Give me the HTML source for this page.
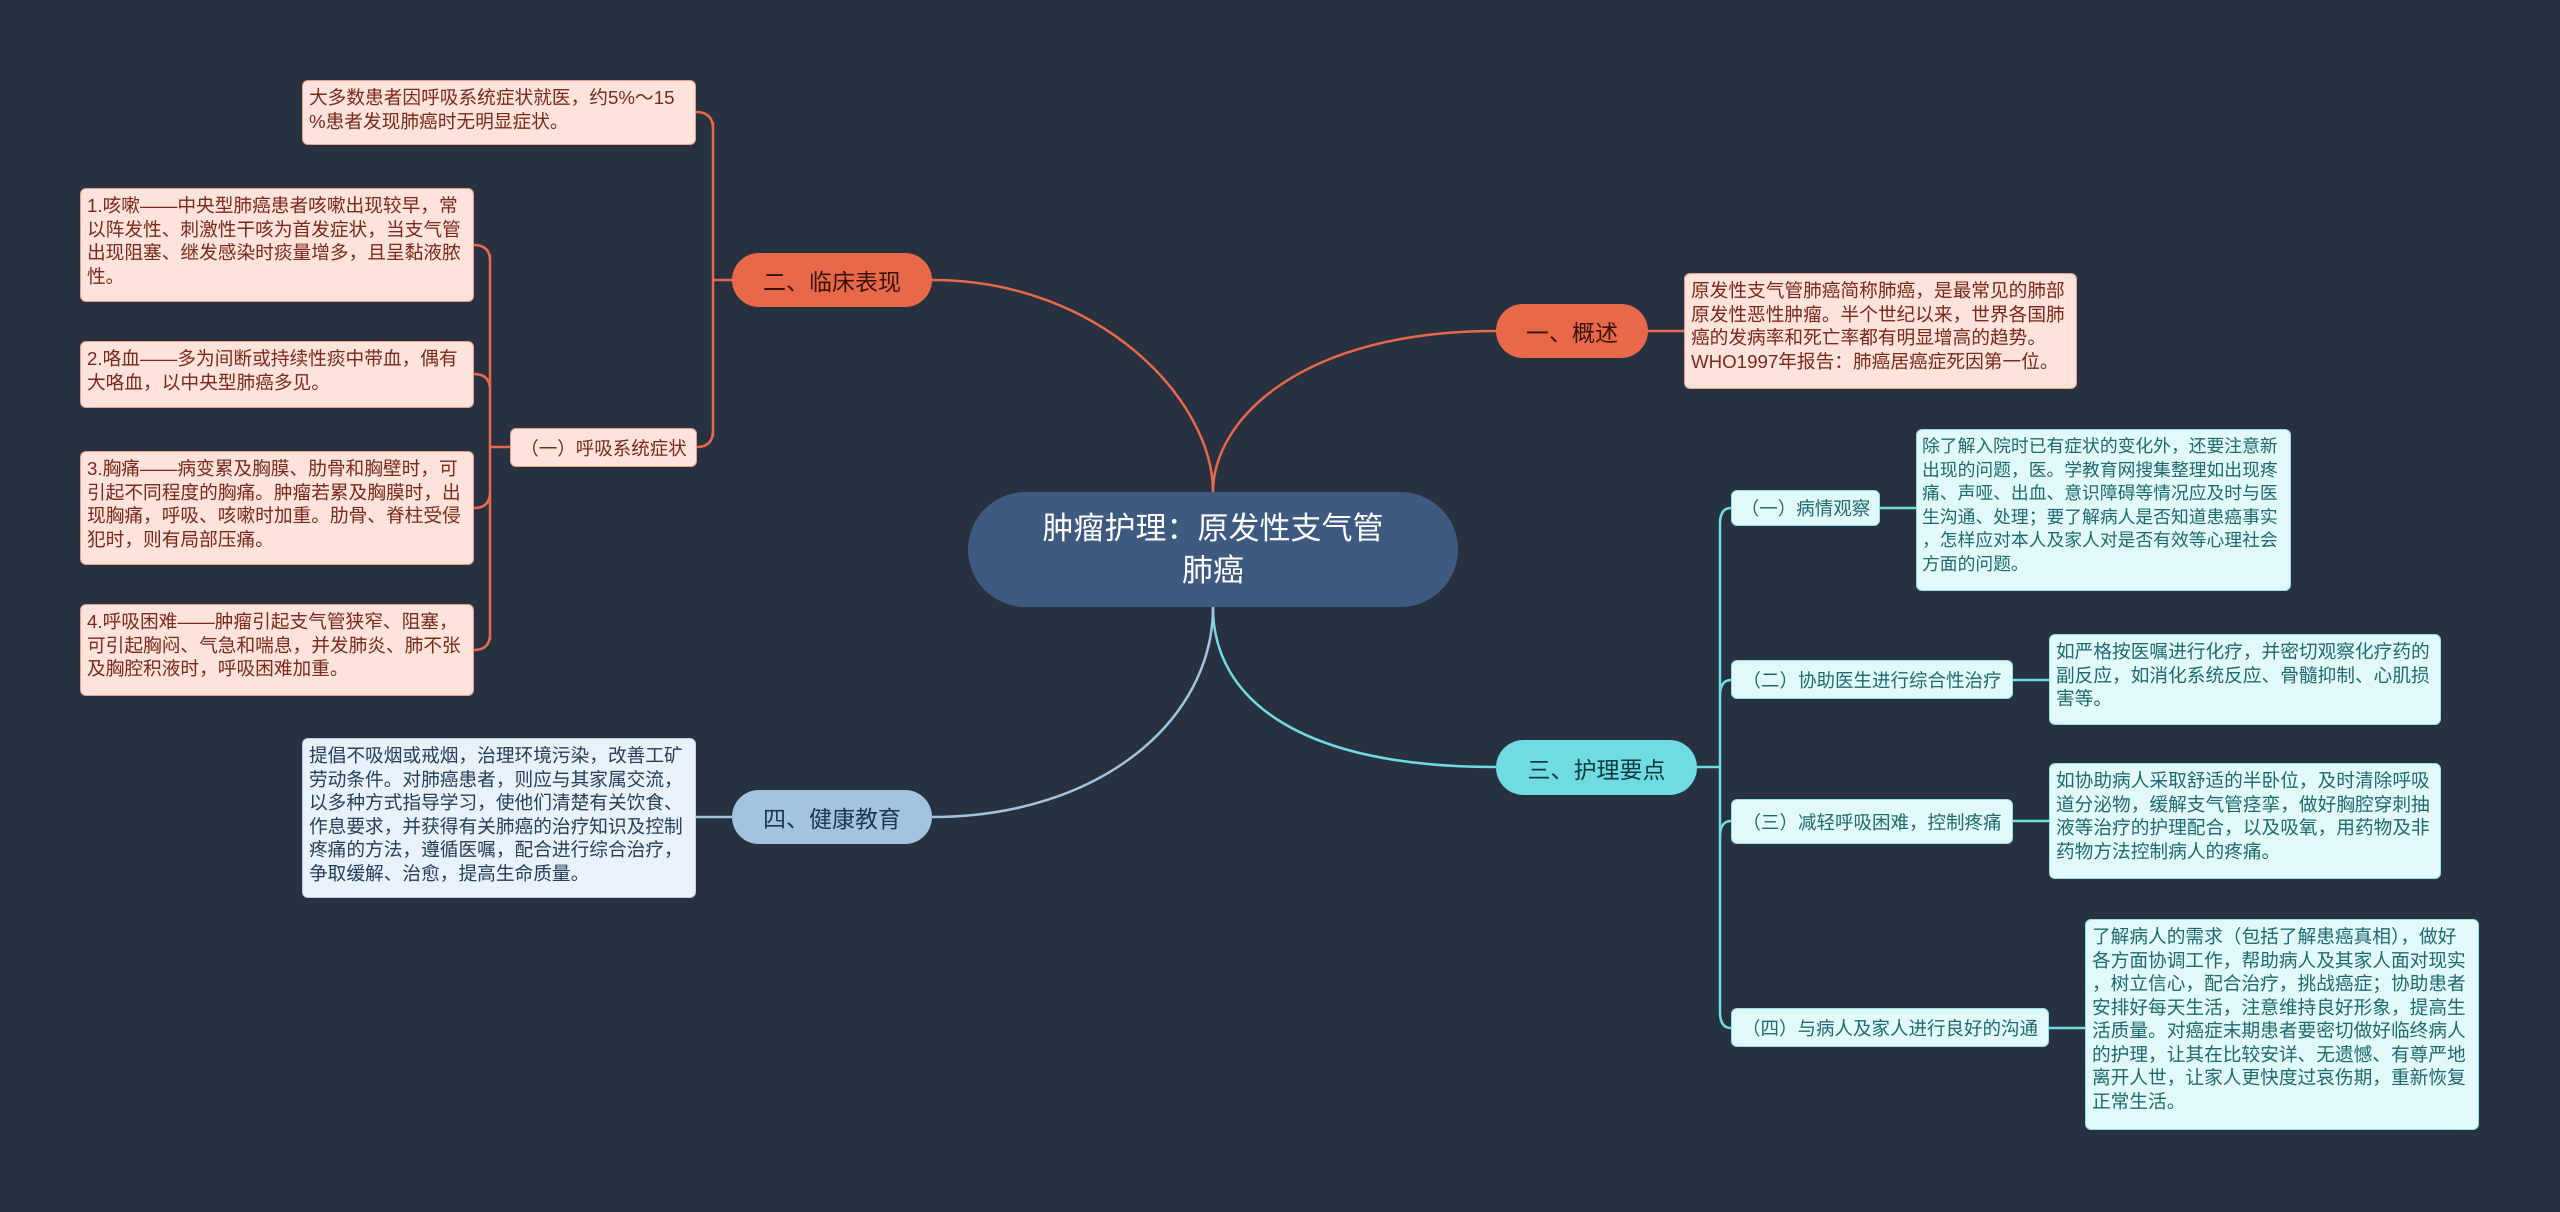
<!DOCTYPE html>
<html><head><meta charset="utf-8"><style>
body{margin:0;width:2560px;height:1212px;background:#283140;overflow:hidden;position:relative;font-family:"Liberation Sans","Noto Sans CJK SC",sans-serif}
.n{position:absolute;box-sizing:border-box}
.br{border-radius:28px;display:flex;align-items:center;justify-content:center;font-size:23px}
.t{border-radius:6px;font-size:18.7px;line-height:23.5px;padding:5px 6px;overflow:hidden;word-break:break-all;line-break:anywhere}
.o{background:#fde3db;color:#7a2a1a;border:1px solid #e8a08c}
.c{background:#e2f9f9;color:#1f6a70;border:1px solid #8fe0e4}
.b{background:#e9f2fa;color:#24405a;border:1px solid #b7cfe4}
.s{border-radius:6px;font-size:18.5px;display:flex;align-items:center;justify-content:center}
svg{position:absolute;left:0;top:0}
</style></head><body>
<svg width="2560" height="1212" fill="none" stroke-width="2.5">
<g stroke="#e8694a">
<path d="M1213,492 C1213,420 1300,331 1496,331"/>
<path d="M1213,492 C1213,400 1100,280 932,280"/>
<path d="M1648,331 L1684,331"/>
<path d="M732,280 L713,280 M713,122 L713,437 M696,112 Q713,112 713,129 M697,447 Q713,447 713,430"/>
<path d="M510,447 L490,447 M490,255 L490,640 M474,245 Q490,245 490,261 M474,374 Q490,374 490,390 M474,508 Q490,508 490,492 M474,650 Q490,650 490,634"/>
</g>
<g stroke="#6fdbe2">
<path d="M1213,607 C1213,700 1300,767 1496,767"/>
<path d="M1697,767 L1720,767 M1720,524 L1720,1012 M1731,508 Q1720,508 1720,524 M1731,680 Q1720,680 1720,696 M1731,821 Q1720,821 1720,837 M1731,1028 Q1720,1028 1720,1012"/>
<path d="M1880,508 L1916,508"/>
<path d="M2013,680 L2049,680"/>
<path d="M2013,821 L2049,821"/>
<path d="M2049,1028 L2085,1028"/>
</g>
<g stroke="#a3c3e0">
<path d="M1213,607 C1213,720 1100,817 932,817"/>
<path d="M732,817 L696,817"/>
</g>
</svg>

<div class="n" style="left:968px;top:492px;width:490px;height:115px;background:#3e5a80;border-radius:58px;color:#fff;font-size:31px;line-height:42px;text-align:center;display:flex;align-items:center;justify-content:center">肿瘤护理：原发性支气管<br>肺癌</div>

<div class="n br" style="left:1496px;top:304px;width:152px;height:54px;background:#e8694a;color:#3a1208">一、概述</div>
<div class="n t o" style="left:1684px;top:273px;width:393px;height:116px">原发性支气管肺癌简称肺癌，是最常见的肺部原发性恶性肿瘤。半个世纪以来，世界各国肺癌的发病率和死亡率都有明显增高的趋势。<br>WHO1997年报告：肺癌居癌症死因第一位。</div>

<div class="n br" style="left:732px;top:253px;width:200px;height:54px;background:#e8694a;color:#3a1208">二、临床表现</div>
<div class="n t o" style="left:302px;top:80px;width:394px;height:65px">大多数患者因呼吸系统症状就医，约5%～15<br>%患者发现肺癌时无明显症状。</div>
<div class="n s o" style="left:510px;top:428px;width:187px;height:39px">（一）呼吸系统症状</div>
<div class="n t o" style="left:80px;top:188px;width:394px;height:114px">1.咳嗽——中央型肺癌患者咳嗽出现较早，常以阵发性、刺激性干咳为首发症状，当支气管出现阻塞、继发感染时痰量增多，且呈黏液脓性。</div>
<div class="n t o" style="left:80px;top:341px;width:394px;height:67px">2.咯血——多为间断或持续性痰中带血，偶有大咯血，以中央型肺癌多见。</div>
<div class="n t o" style="left:80px;top:451px;width:394px;height:114px">3.胸痛——病变累及胸膜、肋骨和胸壁时，可引起不同程度的胸痛。肿瘤若累及胸膜时，出现胸痛，呼吸、咳嗽时加重。肋骨、脊柱受侵犯时，则有局部压痛。</div>
<div class="n t o" style="left:80px;top:604px;width:394px;height:92px">4.呼吸困难——肿瘤引起支气管狭窄、阻塞，可引起胸闷、气急和喘息，并发肺炎、肺不张及胸腔积液时，呼吸困难加重。</div>

<div class="n br" style="left:1496px;top:740px;width:201px;height:55px;background:#6fdbe2;color:#123a40">三、护理要点</div>
<div class="n s c" style="left:1731px;top:490px;width:149px;height:36px">（一）病情观察</div>
<div class="n t c" style="left:1916px;top:429px;width:375px;height:162px;font-size:17.8px;padding:5px">除了解入院时已有症状的变化外，还要注意新出现的问题，医。学教育网搜集整理如出现疼痛、声哑、出血、意识障碍等情况应及时与医生沟通、处理；要了解病人是否知道患癌事实，怎样应对本人及家人对是否有效等心理社会方面的问题。</div>
<div class="n s c" style="left:1731px;top:660px;width:282px;height:39px">（二）协助医生进行综合性治疗</div>
<div class="n t c" style="left:2049px;top:634px;width:392px;height:91px">如严格按医嘱进行化疗，并密切观察化疗药的副反应，如消化系统反应、骨髓抑制、心肌损害等。</div>
<div class="n s c" style="left:1731px;top:799px;width:282px;height:45px">（三）减轻呼吸困难，控制疼痛</div>
<div class="n t c" style="left:2049px;top:763px;width:392px;height:116px">如协助病人采取舒适的半卧位，及时清除呼吸道分泌物，缓解支气管痉挛，做好胸腔穿刺抽液等治疗的护理配合，以及吸氧，用药物及非药物方法控制病人的疼痛。</div>
<div class="n s c" style="left:1731px;top:1008px;width:318px;height:39px">（四）与病人及家人进行良好的沟通</div>
<div class="n t c" style="left:2085px;top:919px;width:394px;height:211px">了解病人的需求（包括了解患癌真相），做好各方面协调工作，帮助病人及其家人面对现实，树立信心，配合治疗，挑战癌症；协助患者安排好每天生活，注意维持良好形象，提高生活质量。对癌症末期患者要密切做好临终病人的护理，让其在比较安详、无遗憾、有尊严地离开人世，让家人更快度过哀伤期，重新恢复正常生活。</div>

<div class="n br" style="left:732px;top:790px;width:200px;height:54px;background:#a3c3e0;color:#1c3550">四、健康教育</div>
<div class="n t b" style="left:302px;top:738px;width:394px;height:160px">提倡不吸烟或戒烟，治理环境污染，改善工矿劳动条件。对肺癌患者，则应与其家属交流，以多种方式指导学习，使他们清楚有关饮食、作息要求，并获得有关肺癌的治疗知识及控制疼痛的方法，遵循医嘱，配合进行综合治疗，争取缓解、治愈，提高生命质量。</div>
</body></html>
